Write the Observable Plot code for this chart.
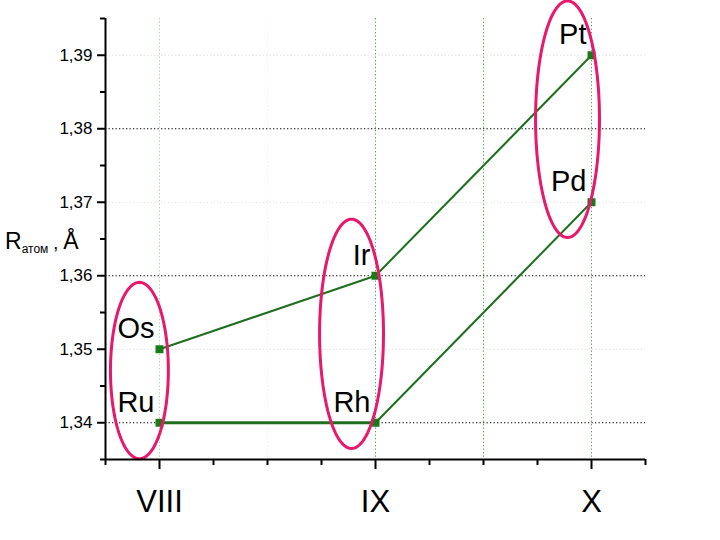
<!DOCTYPE html>
<html><head><meta charset="utf-8">
<script src="https://cdn.jsdelivr.net/npm/d3@7"></script>
<script src="https://cdn.jsdelivr.net/npm/@observablehq/plot@0.6"></script>
<style>
body{margin:0;background:#fff}
#chart svg{font-family:"Liberation Sans",Arial,sans-serif}
</style>
</head><body><div id="chart"></div>
<script>
// ---- data ----
const groups = [1, 2, 3];
const groupLabels = ["VIII", "IX", "X"];
const period6Elements = ["Os", "Ir", "Pt"];
const period6Radii = [1.35, 1.36, 1.39];
const period5Elements = ["Ru", "Rh", "Pd"];
const period5Radii = [1.34, 1.34, 1.37];

const yMajorTicks = [1.34, 1.35, 1.36, 1.37, 1.38, 1.39];
const yMinorTicks = [1.335, 1.345, 1.355, 1.365, 1.375, 1.385, 1.395];
const xMinorTicks = [0.75, 1.25, 1.5, 1.75, 2.25, 2.5, 2.75, 3.25];
const darkGridY = [1.34, 1.36, 1.38];
const faintGridY = [1.35, 1.37, 1.39];
const greenGridX = [2, 2.5, 3];
const lightGridX = [1];
const faintGridX = [1.5];

// highlight ellipses (one per group): centre and half-axes in data units
const ellipseCx = [0.907, 1.889, 2.889];
const ellipseCy = [1.3471, 1.3521, 1.3813];
const ellipseRx = [0.134, 0.148, 0.148];
const ellipseRy = [0.0120, 0.0156, 0.0161];

// ---- build tables ----
const points = [];
groups.forEach((g, i) => {
  points.push({group: g, r: period6Radii[i], el: period6Elements[i], series: "p6"});
  points.push({group: g, r: period5Radii[i], el: period5Elements[i], series: "p5"});
});
const segments = [];
[period6Radii, period5Radii].forEach(radii => {
  for (let i = 0; i < groups.length - 1; i++) {
    segments.push({x1: groups[i], y1: radii[i], x2: groups[i + 1], y2: radii[i + 1]});
  }
});
const ellipsePts = [];
ellipseCx.forEach((cx, k) => {
  for (let j = 0; j <= 120; j++) {
    const t = (j / 120) * 2 * Math.PI;
    ellipsePts.push({k, x: cx + ellipseRx[k] * Math.cos(t), y: ellipseCy[k] + ellipseRy[k] * Math.sin(t)});
  }
});

const fmt = d => d.toFixed(2).replace(".", ",");
const green = "#1f6e1f";

const plot = Plot.plot({
  width: 720,
  height: 540,
  marginLeft: 105,
  marginRight: 75,
  marginTop: 18,
  marginBottom: 81,
  style: {background: "#fff", fontFamily: "'Liberation Sans', Arial, sans-serif", color: "#000"},
  x: {domain: [0.75, 3.25]},
  y: {domain: [1.335, 1.395]},
  marks: [
    Plot.ruleY(faintGridY, {stroke: "#e2e2e2", strokeDasharray: "1.5,2"}),
    Plot.ruleY(darkGridY, {stroke: "#000", strokeDasharray: "1.3,2.2", strokeWidth: 1}),
    Plot.ruleX(faintGridX, {stroke: "#f0f0f0", strokeDasharray: "1.5,2"}),
    Plot.ruleX(lightGridX, {stroke: "#9ddc9d", strokeDasharray: "1.3,2.2"}),
    Plot.ruleX(greenGridX, {stroke: "#4aa84a", strokeDasharray: "1.3,2.2"}),
    Plot.link(segments, {x1: "x1", y1: "y1", x2: "x2", y2: "y2", stroke: green,
      strokeWidth: d => d.y1 === d.y2 ? 3 : 2}),
    Plot.dot(points, {x: "group", y: "r", symbol: "square", r: 4.5, fill: "#1a7a1a"}),
    Plot.text(points, {x: "group", y: "r", text: "el", textAnchor: "end", lineAnchor: "bottom",
      dx: -5, dy: -11, fontSize: 29, fill: "#000"}),
    Plot.line(ellipsePts, {x: "x", y: "y", z: "k", stroke: "#e8186c", strokeWidth: 3}),
    // axes
    Plot.axisY(yMajorTicks, {tickSize: 8, tickPadding: 5, tickFormat: fmt, fontSize: 17, strokeWidth: 2, label: null}),
    Plot.axisY(yMinorTicks, {tickSize: 5, tickFormat: () => "", strokeWidth: 2, label: null}),
    Plot.axisX(groups, {tickSize: 10, tickPadding: 20, tickFormat: d => groupLabels[groups.indexOf(d)], fontSize: 31, strokeWidth: 2, label: null}),
    Plot.axisX(xMinorTicks, {tickSize: 6, tickFormat: () => "", strokeWidth: 2, label: null}),
    Plot.ruleX([0.75], {stroke: "#000", strokeWidth: 2}),
    Plot.ruleY([1.335], {stroke: "#000", strokeWidth: 2})
  ]
});

// y-axis title with subscript
const svg = d3.select(plot);
const t = svg.append("text").attr("x", 5).attr("y", 249).attr("fill", "#000")
  .attr("text-anchor", "start")
  .style("font-family", "'Liberation Sans', Arial, sans-serif");
t.append("tspan").attr("font-size", 23).text("R");
t.append("tspan").attr("font-size", 12).attr("dy", 4).text("атом");
t.append("tspan").attr("font-size", 18).attr("dy", -4).text(" , ");
t.append("tspan").attr("font-size", 23).text("Å");

document.getElementById("chart").appendChild(plot);
</script>
</body></html>
